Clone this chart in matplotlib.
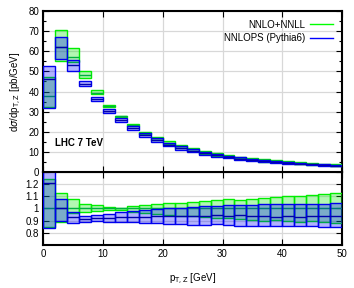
import numpy as np
import matplotlib
matplotlib.use("Agg")
import matplotlib.pyplot as plt
from matplotlib.ticker import MultipleLocator

plt.rcParams['font.family'] = ['Liberation Sans', 'DejaVu Sans']

# bin edges (GeV)
bin_lo = [0, 2, 4, 6, 8, 10, 12, 14, 16, 18, 20, 22, 24, 26, 28, 30, 32, 34, 36, 38, 40, 42, 44, 46, 48]
bin_w = 2.0

# NNLO+NNLL (absolute, pb/GeV)
nnll_c = [38.0, 62.3, 57.2, 48.1, 39.5, 32.9, 27.7, 23.3, 19.6, 16.8, 14.5, 12.7, 11.3, 9.8, 8.8,
          7.9, 7.1, 6.4, 5.8, 5.3, 4.8, 4.4, 4.0, 3.7, 3.4]
nnll_lo = [32.1, 55.4, 54.9, 46.7, 38.7, 32.4, 27.3, 22.7, 18.9, 16.0, 13.7, 11.9, 10.6, 9.1, 8.1,
           7.3, 6.5, 5.8, 5.2, 4.8, 4.3, 3.9, 3.6, 3.3, 3.0]
nnll_hi = [47.1, 70.4, 61.5, 50.0, 40.7, 33.3, 27.9, 23.7, 20.1, 17.4, 15.2, 13.3, 11.9, 10.4, 9.4,
           8.5, 7.6, 6.9, 6.3, 5.8, 5.3, 4.85, 4.45, 4.13, 3.82]

# NNLOPS (Pythia6) (absolute, pb/GeV)
nnlops_c = [46.0, 62.3, 53.2, 43.8, 36.3, 30.3, 25.8, 21.7, 18.3, 15.8, 13.6, 11.9, 10.6, 9.2, 8.3,
            7.4, 6.7, 6.0, 5.45, 4.95, 4.49, 4.11, 3.74, 3.46, 3.18]
nnlops_lo = [32.0, 56.1, 50.3, 42.6, 35.4, 29.3, 24.7, 20.7, 17.3, 14.8, 12.7, 11.1, 9.8, 8.5, 7.7,
             6.8, 6.1, 5.5, 4.98, 4.54, 4.10, 3.75, 3.41, 3.15, 2.89]
nnlops_hi = [52.5, 67.3, 55.5, 45.2, 37.5, 31.4, 26.8, 22.8, 19.4, 16.75, 14.6, 12.8, 11.45, 9.97, 8.98,
             8.1, 7.31, 6.6, 6.0, 5.49, 4.97, 4.56, 4.15, 3.84, 3.54]

labels = ["NNLO+NNLL", "NNLOPS (Pythia6)"]
main_yticks = [0, 10, 20, 30, 40, 50, 60, 70, 80]
ratio_yticks = [0.8, 0.9, 1.0, 1.1, 1.2]
ratio_yticklabels = ['0.8', '0.9', '1', '1.1', '1.2']

W, H = 354, 288
fig = plt.figure(figsize=(W / 100, H / 100), dpi=100)
L, R = 43.3 / W, 342 / W
ax2 = fig.add_axes([L, 1 - 245 / H, R - L, (245 - 172) / H])
ax1 = fig.add_axes([L, 1 - 172 / H, R - L, (172 - 11) / H])
ax1.set_zorder(5)

green_e = '#00ee00'
green_f = (0.0, 0.9, 0.0, 0.3)
green_c = '#00b040'
blue_e = '#0000ee'
blue_f = (0.0, 0.0, 1.0, 0.3)
blue_c = '#0000aa'

x = np.array(bin_lo, dtype=float)
gc, glo, ghi = map(np.array, (nnll_c, nnll_lo, nnll_hi))
bc, blo, bhi = map(np.array, (nnlops_c, nnlops_lo, nnlops_hi))


def draw(ax, c1, lo1, hi1, c2, lo2, hi2):
    ax.bar(x, hi1 - lo1, bottom=lo1, width=bin_w, align='edge', facecolor=green_f,
           edgecolor=green_e, linewidth=1.0, zorder=3)
    ax.hlines(c1, x, x + bin_w, color=green_c, linewidth=1.0, zorder=4)
    ax.bar(x, hi2 - lo2, bottom=lo2, width=bin_w, align='edge', facecolor=blue_f,
           edgecolor=blue_e, linewidth=1.0, zorder=5)
    ax.hlines(c2, x, x + bin_w, color=blue_c, linewidth=1.0, zorder=6)


draw(ax1, gc, glo, ghi, bc, blo, bhi)
draw(ax2, gc / gc, glo / gc, ghi / gc, bc / gc, blo / gc, bhi / gc)

for ax in (ax1, ax2):
    ax.set_xlim(0, 50)
    ax.xaxis.set_major_locator(MultipleLocator(10))
    ax.grid(True, color='#d8d8d8', linewidth=0.9, zorder=0)
    ax.set_axisbelow(True)
    ax.tick_params(direction='in', top=True, right=True, labelsize=7, length=4, width=0.8,
                   colors='black', pad=3)
    ax.tick_params(which='minor', direction='in', right=True, left=True, length=2.5, width=0.8)
    for s in ax.spines.values():
        s.set_linewidth(1.5)

ax1.set_ylim(0, 80)
ax1.set_yticks(main_yticks)
ax1.set_yticklabels([str(v) for v in main_yticks])
ax1.yaxis.set_minor_locator(MultipleLocator(5))
ax1.tick_params(labelbottom=False)
ax1.set_ylabel(r'd$\sigma$/dp$_{\mathrm{T,Z}}$ [pb/GeV]', fontsize=7)
ax1.yaxis.set_label_coords(-0.065, 0.5)
ax1.text(2, 14.4, 'LHC 7 TeV', fontsize=7, fontweight='bold', va='center', ha='left')

ax2.set_ylim(0.7, 1.3)
ax2.set_yticks(ratio_yticks)
ax2.set_yticklabels(ratio_yticklabels)
ax2.set_xlabel(r'p$_{\mathrm{T,Z}}$ [GeV]', fontsize=7, labelpad=9)

h1, = ax1.plot([], [], color='#00ff00', linewidth=1.0)
h2, = ax1.plot([], [], color='#0000ff', linewidth=1.0)
leg = ax1.legend([h1, h2], labels, loc='upper right', frameon=False, fontsize=7,
                 markerfirst=False, handlelength=2.4, handletextpad=0.5,
                 borderaxespad=0.5, labelspacing=0.35)
leg.set_zorder(10)

fig.savefig('out.png', dpi=100)
